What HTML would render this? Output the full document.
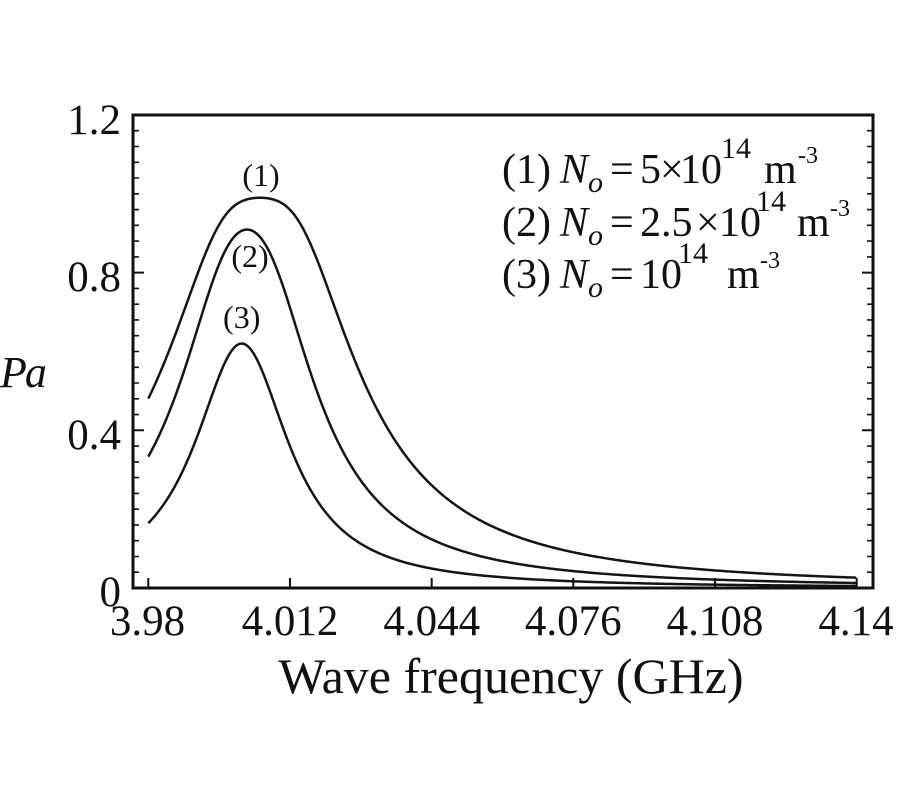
<!DOCTYPE html>
<html>
<head>
<meta charset="utf-8">
<style>
  html, body { margin: 0; padding: 0; background: #ffffff; }
  svg { display: block; }
  text { font-family: "Liberation Serif", "Times New Roman", serif; fill: #111; }
</style>
</head>
<body>
<svg id="chart" width="900" height="800" viewBox="0 0 900 800" xmlns="http://www.w3.org/2000/svg">
  <rect x="0" y="0" width="900" height="800" fill="#ffffff"/>

  <!-- curves -->
  <path id="c1" d="" fill="none" stroke="#151515" stroke-width="2.5" stroke-linejoin="round"/>
  <path id="c2" d="" fill="none" stroke="#151515" stroke-width="2.5" stroke-linejoin="round"/>
  <path id="c3" d="" fill="none" stroke="#151515" stroke-width="2.5" stroke-linejoin="round"/>

  <!-- frame -->
  <rect x="133" y="115" width="740" height="473" fill="none" stroke="#111" stroke-width="3"/>

  <!-- left minor ticks -->
  <path fill="none" stroke="#111" stroke-width="1.6" d="
    M133 572.2h6 M133 556.5h6 M133 540.7h6 M133 524.9h6 M133 509.2h6 M133 493.4h6 M133 477.6h6 M133 461.9h6 M133 446.1h6
    M133 414.6h6 M133 398.8h6 M133 383.0h6 M133 367.3h6 M133 351.5h6 M133 335.7h6 M133 319.9h6 M133 304.2h6 M133 288.4h6
    M133 256.9h6 M133 241.1h6 M133 225.3h6 M133 209.6h6 M133 193.8h6 M133 178.0h6 M133 162.3h6 M133 146.5h6 M133 130.7h6"/>
  <path fill="none" stroke="#111" stroke-width="2" d="M133 430.3h11 M133 272.6h11"/>

  <!-- right minor ticks -->
  <path fill="none" stroke="#111" stroke-width="1.6" d="
    M873 572.2h-6 M873 556.5h-6 M873 540.7h-6 M873 524.9h-6 M873 509.2h-6 M873 493.4h-6 M873 477.6h-6 M873 461.9h-6 M873 446.1h-6
    M873 414.6h-6 M873 398.8h-6 M873 383.0h-6 M873 367.3h-6 M873 351.5h-6 M873 335.7h-6 M873 319.9h-6 M873 304.2h-6 M873 288.4h-6
    M873 256.9h-6 M873 241.1h-6 M873 225.3h-6 M873 209.6h-6 M873 193.8h-6 M873 178.0h-6 M873 162.3h-6 M873 146.5h-6 M873 130.7h-6"/>
  <path fill="none" stroke="#111" stroke-width="2" d="M873 430.3h-11 M873 272.6h-11"/>

  <!-- bottom ticks -->
  <path fill="none" stroke="#111" stroke-width="2" d="M148.3 588v-10 M290 588v-10 M431.7 588v-10 M573.3 588v-10 M715 588v-10 M856.7 588v-10"/>

  <!-- y tick labels -->
  <g font-size="43" text-anchor="end">
    <text x="121" y="134">1.2</text>
    <text x="121" y="291">0.8</text>
    <text x="121" y="449">0.4</text>
    <text x="121" y="606">0</text>
  </g>

  <!-- x tick labels -->
  <g font-size="43" text-anchor="middle">
    <text x="147.5" y="635">3.98</text>
    <text x="290" y="635">4.012</text>
    <text x="431.7" y="635">4.044</text>
    <text x="573.3" y="635">4.076</text>
    <text x="715" y="635">4.108</text>
    <text x="856" y="635">4.14</text>
  </g>

  <!-- axis titles -->
  <text x="511" y="693" font-size="50" text-anchor="middle">Wave frequency (GHz)</text>
  <text x="0" y="387" font-size="44" font-style="italic">P<tspan dx="-2">a</tspan></text>

  <!-- curve labels -->
  <g font-size="32" text-anchor="middle">
    <text x="261" y="186">(1)</text>
    <text x="250" y="267">(2)</text>
    <text x="241.7" y="328">(3)</text>
  </g>

  <!-- legend -->
  <g font-size="42">
    <text x="502" y="183">(1)</text>
    <text x="560" y="183" font-style="italic">N</text>
    <text x="588" y="192" font-size="30" font-style="italic">o</text>
    <text x="610" y="183">=</text>
    <text x="640" y="183">5</text>
    <text x="660" y="183">×</text>
    <text x="680" y="183">10</text>
    <text x="721" y="158" font-size="30">14</text>
    <text x="764" y="183">m</text>
    <text x="798" y="163" font-size="24">-3</text>

    <text x="502" y="236">(2)</text>
    <text x="560" y="236" font-style="italic">N</text>
    <text x="588" y="245" font-size="30" font-style="italic">o</text>
    <text x="610" y="236">=</text>
    <text x="640" y="236">2.5</text>
    <text x="696" y="236">×</text>
    <text x="719" y="236">10</text>
    <text x="756" y="211" font-size="30">14</text>
    <text x="797" y="236">m</text>
    <text x="830" y="216" font-size="24">-3</text>

    <text x="502" y="288">(3)</text>
    <text x="560" y="288" font-style="italic">N</text>
    <text x="588" y="297" font-size="30" font-style="italic">o</text>
    <text x="610" y="288">=</text>
    <text x="640" y="288">10</text>
    <text x="678" y="263" font-size="30">14</text>
    <text x="727" y="288">m</text>
    <text x="760" y="268" font-size="24">-3</text>
  </g>
</svg>
<script>
(function(){
  function curve(k, c, w){
    var d = "";
    for (var x = 148.3; x <= 856.71; x += 1.5) {
      var L = 1 / (1 + Math.pow((x - c) / w, 2));
      var P = 1 - Math.exp(-k * L);
      var y = 588 - 394.2 * P;
      d += (d ? " L" : "M") + x.toFixed(1) + " " + y.toFixed(2);
    }
    return d;
  }
  document.getElementById("c1").setAttribute("d", curve(4.6, 260, 45.5));
  document.getElementById("c2").setAttribute("d", curve(2.4, 247, 44.5));
  document.getElementById("c3").setAttribute("d", curve(0.968, 241.7, 44.6));
})();
</script>
</body>
</html>
